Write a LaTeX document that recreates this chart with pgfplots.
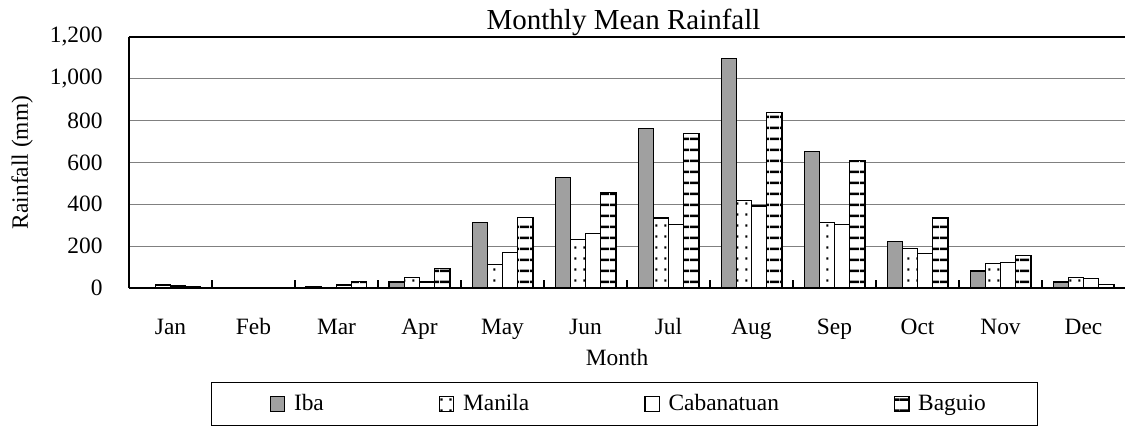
\documentclass[border=0pt]{standalone}
\usepackage{fontspec}
\setmainfont{Liberation Serif}
\usepackage{pgfplots}
\pgfplotsset{compat=1.18}
\usetikzlibrary{patterns}

\definecolor{ibagray}{RGB}{160,160,160}
\definecolor{gridgray}{RGB}{128,128,128}

\pgfdeclarepatternformonly{sparsedots}{\pgfqpoint{0pt}{0pt}}{\pgfqpoint{4.65pt}{5.4pt}}{\pgfqpoint{4.65pt}{5.4pt}}{%
  \pgfpathrectangle{\pgfqpoint{1.8pt}{2.2pt}}{\pgfqpoint{1.1pt}{1.1pt}}\pgfusepath{fill}}
\pgfdeclarepatternformonly{thickhlines}{\pgfqpoint{0pt}{0pt}}{\pgfqpoint{5pt}{5.37pt}}{\pgfqpoint{5pt}{5.37pt}}{%
  \pgfpathrectangle{\pgfqpoint{0pt}{2pt}}{\pgfqpoint{5pt}{1.3pt}}\pgfusepath{fill}}

\newcommand{\lblfont}{\fontsize{11.7}{14}\selectfont}

\begin{document}
\begin{tikzpicture}
\begin{axis}[
  name=ax,
  scale only axis, width=498pt, height=125.5pt,
  ybar=0pt, bar width=7.6pt,
  xmin=-0.5, xmax=11.5, ymin=0, ymax=1200,
  xtick={0,...,11},
  xticklabels={Jan,Feb,Mar,Apr,May,Jun,Jul,Aug,Sep,Oct,Nov,Dec},
  minor x tick num=1,
  major tick length=0pt, minor tick length=4pt,
  tick align=inside,
  every tick/.style={black, line width=0.6pt},
  axis x line*=bottom, axis y line*=left,
  axis line style={black, line width=0.7pt},
  ytick={0,200,...,1200},
  ymajorgrids,
  major grid style={gridgray, line width=0.5pt},
  /pgf/number format/.cd, 1000 sep={,}, assume math mode=true,
  /pgfplots/.cd,
  tick label style={font=\lblfont},
  yticklabel style={anchor=east, xshift=-9.7pt},
  xticklabel style={anchor=base, yshift=-23.15pt},
  title={Monthly Mean Rainfall},
  title style={at={(axis description cs:0.4965,1)}, anchor=base, yshift=-2.25pt, font=\fontsize{14.5}{17}\selectfont},
  xlabel={Month},
  xlabel style={at={(axis description cs:0.49,0)}, anchor=base, yshift=-39pt, font=\lblfont},
  ylabel={Rainfall (mm)},
  ylabel style={at={(axis description cs:-0.1074,0.5)}, anchor=center, rotate=0, font=\lblfont},
  legend columns=4,
  legend style={at={(axis description cs:0.4978,-0.4622)}, anchor=center,
    draw=black, line width=0.6pt, font=\lblfont,
    inner xsep=24pt, inner ysep=3.9pt,
    /tikz/every even column/.append style={column sep=50.5pt}},
  sq legend/.style={legend image code/.code={\path (-5pt,0) (9.5pt,0);\draw[##1] (0pt,-3.6pt) rectangle (7.2pt,3.6pt);}},
  every axis plot/.append style={draw=black, line width=0.6pt},
]
\addplot[fill=ibagray, sq legend] coordinates {(0,2) (1,1) (2,8) (3,29) (4,315) (5,528) (6,762) (7,1099) (8,653) (9,222) (10,81) (11,29)};
\addplot[fill=white, postaction={pattern=sparsedots}, sq legend] coordinates {(0,14) (1,4) (2,4) (3,50) (4,112) (5,231) (6,335) (7,418) (8,315) (9,188) (10,117) (11,50)};
\addplot[fill=white, sq legend] coordinates {(0,10) (1,2) (2,14) (3,29) (4,169) (5,260) (6,304) (7,392) (8,304) (9,164) (10,121) (11,45)};
\addplot[fill=white, postaction={pattern=thickhlines}, sq legend] coordinates {(0,5) (1,4) (2,32) (3,93) (4,336) (5,456) (6,738) (7,838) (8,609) (9,335) (10,155) (11,16)};
\legend{Iba,Manila,Cabanatuan,Baguio}
\draw[black, line width=0.7pt] (rel axis cs:0,1) -- (rel axis cs:1,1);
\end{axis}
\pgfresetboundingbox
\path[use as bounding box] ([shift={(-64.5pt,-69pt)}]ax.south west) rectangle ++(562.5pt,213pt);
\end{tikzpicture}
\end{document}
